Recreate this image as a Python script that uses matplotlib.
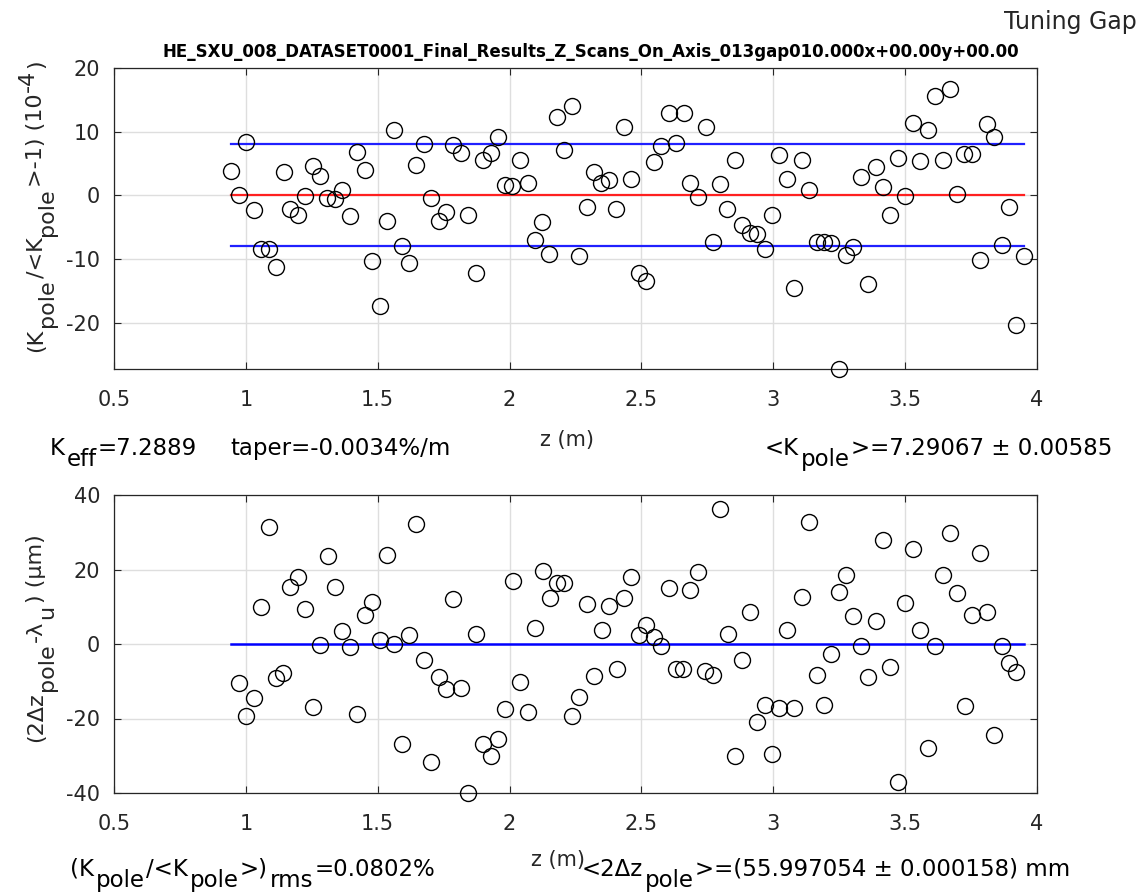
import numpy as np
import matplotlib
matplotlib.use("Agg")
import matplotlib.pyplot as plt
from matplotlib.ticker import FuncFormatter

# --- data ---

# pole positions (m) and relative pole field deviation (1e-4)
z_top = [0.944, 0.975, 1.000, 1.029, 1.057, 1.086, 1.114, 1.143, 1.168, 1.197,
         1.225, 1.253, 1.282, 1.309, 1.339, 1.366, 1.394, 1.422, 1.450, 1.479,
         1.507, 1.535, 1.562, 1.591, 1.619, 1.647, 1.675, 1.703, 1.732, 1.760,
         1.787, 1.815, 1.843, 1.871, 1.899, 1.928, 1.956, 1.983, 2.011, 2.040,
         2.068, 2.096, 2.124, 2.151, 2.180, 2.208, 2.236, 2.265, 2.293, 2.321,
         2.348, 2.377, 2.405, 2.433, 2.461, 2.491, 2.519, 2.546, 2.574, 2.603,
         2.632, 2.660, 2.686, 2.714, 2.743, 2.771, 2.799, 2.826, 2.854, 2.883,
         2.911, 2.939, 2.967, 2.996, 3.023, 3.052, 3.079, 3.107, 3.136, 3.164,
         3.192, 3.220, 3.249, 3.276, 3.304, 3.332, 3.360, 3.389, 3.417, 3.444,
         3.472, 3.501, 3.529, 3.557, 3.585, 3.613, 3.642, 3.670, 3.697, 3.725,
         3.754, 3.782, 3.810, 3.838, 3.867, 3.894, 3.922, 3.950]
dk_top = [3.8, 0.0, 8.4, -2.3, -8.4, -8.4, -11.2, 3.7, -2.1, -3.1,
          -0.1, 4.6, 3.1, -0.4, -0.6, 0.9, -3.3, 6.8, 3.9, -10.4,
          -17.4, -4.1, 10.2, -8.0, -10.7, 4.8, 8.1, -0.4, -4.1, -2.7,
          7.9, 6.6, -3.1, -12.2, 5.6, 6.6, 9.1, 1.6, 1.5, 5.5,
          2.0, -7.0, -4.2, -9.3, 12.3, 7.1, 14.0, -9.6, -1.8, 3.6,
          1.9, 2.4, -2.1, 10.7, 2.5, -12.2, -13.5, 5.2, 7.8, 13.0,
          8.2, 12.9, 1.9, -0.2, 10.7, -7.4, 1.8, -2.2, 5.5, -4.6,
          -6.0, -6.1, -8.5, -3.1, 6.4, 2.5, -14.6, 5.5, 0.8, -7.4,
          -7.4, -7.5, -27.3, -9.4, -8.2, 2.9, -13.9, 4.5, 1.3, -3.1,
          5.9, -0.1, 11.4, 5.4, 10.3, 15.6, 5.6, 16.7, 0.2, 6.5,
          6.5, -10.1, 11.2, 9.1, -7.8, -1.8, -20.4, -9.5]

# period error 2*dz - lambda_u (um)
z_bot = [0.975, 1.001, 1.029, 1.057, 1.086, 1.114, 1.141, 1.168, 1.197, 1.225,
         1.254, 1.282, 1.311, 1.338, 1.366, 1.394, 1.422, 1.450, 1.479, 1.507,
         1.535, 1.563, 1.591, 1.619, 1.647, 1.675, 1.703, 1.732, 1.760, 1.787,
         1.815, 1.844, 1.872, 1.900, 1.928, 1.956, 1.983, 2.012, 2.040, 2.068,
         2.096, 2.125, 2.153, 2.180, 2.208, 2.237, 2.265, 2.293, 2.322, 2.350,
         2.378, 2.407, 2.434, 2.461, 2.490, 2.518, 2.546, 2.574, 2.603, 2.631,
         2.658, 2.686, 2.714, 2.742, 2.771, 2.799, 2.828, 2.856, 2.883, 2.911,
         2.939, 2.967, 2.996, 3.023, 3.052, 3.079, 3.107, 3.136, 3.164, 3.192,
         3.220, 3.249, 3.277, 3.304, 3.332, 3.361, 3.389, 3.417, 3.444, 3.474,
         3.501, 3.529, 3.557, 3.585, 3.613, 3.642, 3.670, 3.697, 3.726, 3.754,
         3.782, 3.810, 3.838, 3.867, 3.894, 3.922]
dz_bot = [-10.5, -19.4, -14.6, 9.8, 31.4, -9.0, -7.8, 15.2, 18.1, 9.4,
          -17.0, -0.2, 23.5, 15.3, 3.4, -0.9, -18.8, 7.7, 11.2, 1.0,
          23.9, 0.1, -26.8, 2.5, 32.3, -4.4, -31.7, -8.9, -12.1, 12.1,
          -11.8, -40.0, 2.7, -26.8, -30.2, -25.5, -17.4, 16.8, -10.1, -18.3,
          4.3, 19.5, 12.3, 16.4, 16.5, -19.2, -14.1, 10.8, -8.5, 3.8,
          10.3, -6.8, 12.3, 18.1, 2.3, 5.0, 2.0, -0.6, 15.0, -6.7,
          -6.7, 14.6, 19.2, -7.2, -8.2, 36.3, 2.7, -30.0, -4.2, 8.6,
          -20.9, -16.5, -29.5, -17.2, 3.8, -17.2, 12.5, 32.7, -8.2, -16.3,
          -2.7, 14.0, 18.4, 7.4, -0.6, -8.9, 6.1, 27.9, -6.3, -37.1,
          10.9, 25.6, 3.8, -27.9, -0.6, 18.4, 29.8, 13.7, -16.7, 7.7,
          24.4, 8.5, -24.4, -0.6, -5.1, -7.4]

k_rms = 8.02  # 0.0802 % in units of 1e-4
x_ticks = [0.5, 1, 1.5, 2, 2.5, 3, 3.5, 4]
top_yticks = [-20, -10, 0, 10, 20]
bot_yticks = [-40, -20, 0, 20, 40]

title = "HE_SXU_008_DATASET0001_Final_Results_Z_Scans_On_Axis_013gap010.000x+00.00y+00.00"

# --- style ---
plt.rcParams['font.family'] = ['DejaVu Sans']
plt.rcParams['axes.unicode_minus'] = False
dark = '#262626'
W, H = 1147, 894
SUB = 11  # subscript drop in px (MATLAB tex keeps full size)


def fpos(x, y):
    # pixel position -> figure fraction
    return x / W, 1 - y / H


def rich(fig, x, y, parts, size, vertical=False, color='black'):
    """Draw text piecewise; parts = [(string, shift_px)], shift>0 lowers (subscript)."""
    r = fig.canvas.get_renderer()
    cur = x if not vertical else y
    for s, shift in parts:
        if vertical:
            t = fig.text(*fpos(x + shift, cur), s, rotation=90, rotation_mode='anchor',
                         ha='left', va='baseline', fontsize=size, color=color)
            cur -= t.get_window_extent(r).height + 1.5
        else:
            t = fig.text(*fpos(cur, y + shift), s, ha='left', va='baseline',
                         fontsize=size, color=color)
            cur += t.get_window_extent(r).width + 1.5


def style_axes(ax, yticks, ylim):
    ax.set_xlim(0.5, 4)
    ax.set_ylim(*ylim)
    ax.set_xticks(x_ticks)
    ax.set_yticks(yticks)
    ax.xaxis.set_major_formatter(FuncFormatter(lambda v, p: f"{v:g}"))
    ax.grid(True, color='#dedede', linewidth=1.0)
    ax.set_axisbelow(True)
    ax.tick_params(direction='in', length=5, width=0.8, colors=dark,
                   labelsize=15, top=True, right=True)
    ax.tick_params(axis='x', pad=15)
    ax.tick_params(axis='y', pad=10)
    for s in ax.spines.values():
        s.set_color(dark)
        s.set_linewidth(0.9)


fig = plt.figure(figsize=(W / 100, H / 100), dpi=100)
ax1 = fig.add_axes([114 / W, (H - 369) / H, 923 / W, 301 / H])
ax2 = fig.add_axes([114 / W, (H - 793) / H, 923 / W, 298 / H])

zspan = [z_top[0], z_top[-1]]

# top: pole field deviation
ax1.plot(z_top, dk_top, 'o', mfc='none', mec='black', ms=11.5, mew=1.0, clip_on=False, zorder=3)
ax1.plot(zspan, [0, 0], color='#ff2020', lw=1.6, zorder=2)
ax1.plot(zspan, [k_rms, k_rms], color='#2020ff', lw=1.6, zorder=2)
ax1.plot(zspan, [-k_rms, -k_rms], color='#2020ff', lw=1.6, zorder=2)
style_axes(ax1, top_yticks, (-27.3, 20))

# bottom: period error
ax2.plot(z_bot, dz_bot, 'o', mfc='none', mec='black', ms=11.5, mew=1.0, clip_on=False, zorder=3)
ax2.plot(zspan, [0, 0], color='#0000ff', lw=1.8, zorder=2)
style_axes(ax2, bot_yticks, (-40, 40))

# header
fig.text(*fpos(1137, 29), "Tuning Gap", ha='right', va='baseline', fontsize=17, color=dark)
fig.text(*fpos(591, 52), title, ha='center', va='center', fontsize=12, fontweight='bold', color='black')

# y labels
rich(fig, 42, 352, [("(K", 0), ("pole", SUB), ("/<K", 0), ("pole", SUB),
                    (">-1) (10", 0), ("-4", -8), (")", 0)], 16, vertical=True, color=dark)
rich(fig, 42, 742, [("(2Δz", 0), ("pole", SUB), ("-λ", 0), ("u", SUB),
                    (") (μm)", 0)], 16, vertical=True, color=dark)

# x labels
fig.text(*fpos(567, 446), "z (m)", ha='center', va='baseline', fontsize=15, color=dark)
fig.text(*fpos(558, 866), "z (m)", ha='center', va='baseline', fontsize=15, color=dark)

# result annotations
ann = 16.5
rich(fig, 50, 455, [("K", 0), ("eff", SUB), ("=7.2889", 0)], ann)
rich(fig, 230, 455, [("taper=-0.0034%/m", 0)], ann)
rich(fig, 765, 455, [("<K", 0), ("pole", SUB), (">=7.29067 ± 0.00585", 0)], ann)
rich(fig, 70, 876, [("(K", 0), ("pole", SUB), ("/<K", 0), ("pole", SUB), (">)", 0),
                    ("rms", SUB), ("=0.0802%", 0)], ann)
rich(fig, 582, 876, [("<2Δz", 0), ("pole", SUB), (">=(55.997054 ± 0.000158) mm", 0)], ann)

fig.savefig("out.png", dpi=100)
